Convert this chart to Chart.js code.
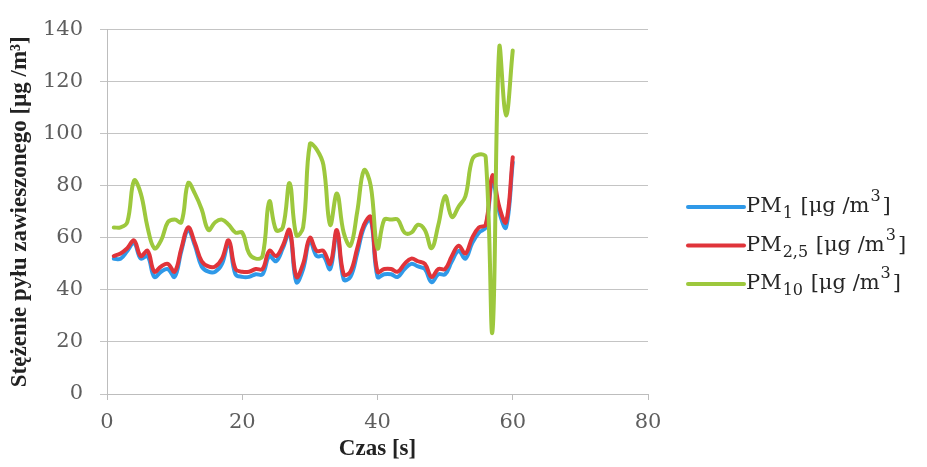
<!DOCTYPE html>
<html>
<head>
<meta charset="utf-8">
<script src="https://cdn.jsdelivr.net/npm/chart.js@4.4.0/dist/chart.umd.min.js"></script>
<style>
  html, body { margin: 0; padding: 0; background: #fff; }
</style>
</head>
<body>
<canvas id="wykres" width="927" height="467"></canvas>
<script>
// czas pomiaru [s]
const czas = [1, 2, 3, 4, 5, 6, 7, 8, 9, 10, 11, 12, 13, 14, 15, 16, 17, 18, 19, 20,
  21, 22, 23, 24, 25, 26, 27, 28, 29, 30, 31, 32, 33, 34, 35, 36, 37, 38, 39, 40,
  41, 42, 43, 44, 45, 46, 47, 48, 49, 50, 51, 52, 53, 54, 55, 56, 57, 58, 59, 60];

const pm1 = [52, 52, 55, 58, 52, 53, 45, 47, 48, 45, 55, 63, 57, 49, 47, 47, 50, 58, 46, 45,
  45, 46, 46, 53, 51, 56, 62, 43, 48, 59, 53, 53, 48, 62, 44, 45, 54, 64, 67, 45,
  46, 46, 45, 48, 50, 49, 48, 43, 46, 46, 51, 55, 52, 58, 62, 64, 82, 70, 64, 89];

const pm25 = [53, 54, 56, 59, 53, 55, 47, 49, 50, 47, 56, 64, 58, 51, 49, 49, 52, 59, 48, 47,
  47, 48, 48, 55, 53, 57, 63, 45, 50, 60, 55, 55, 50, 63, 46, 47, 56, 65, 68, 47,
  48, 48, 47, 50, 52, 51, 50, 45, 48, 48, 53, 57, 54, 60, 64, 65, 84, 72, 66, 91];

const pm10 = [64, 64, 66, 82, 77, 64, 56, 59, 66, 67, 66, 81, 77, 71, 63, 66, 67, 65, 62, 62,
  54, 52, 53, 74, 63, 64, 81, 61, 64, 96, 94, 88, 65, 77, 62, 57, 70, 86, 80, 56,
  67, 67, 67, 62, 62, 65, 63, 56, 65, 76, 68, 72, 76, 90, 92, 91, 24, 133, 107, 132];

const xTicks = [0, 20, 40, 60, 80];
const yTicks = [0, 20, 40, 60, 80, 100, 120, 140];

// opis legendy: PM + indeks dolny + jednostka z potega
const nazwy = ['PM', 'PM', 'PM'];
const indeksy = ['1', '2,5', '10'];
const kolory = ['#2f99e8', '#e0343a', '#9dc83d'];

const szeryf = '"Liberation Serif", "DejaVu Serif", serif';
const szeryfSzeroki = '"DejaVu Serif", "Liberation Serif", serif';

function punkty(wartosci) {
  return czas.map((t, i) => ({ x: t, y: wartosci[i] }));
}

const legendaWlasna = {
  id: 'legendaWlasna',
  afterDraw(chart) {
    const ctx = chart.ctx;
    const x0 = 688, y0 = 207, krok = 38.5;
    ctx.save();
    chart.data.datasets.forEach((ds, i) => {
      const y = y0 + i * krok;
      ctx.strokeStyle = ds.borderColor;
      ctx.lineWidth = 4;
      ctx.lineCap = 'round';
      ctx.beginPath();
      ctx.moveTo(x0, y);
      ctx.lineTo(x0 + 56, y);
      ctx.stroke();

      ctx.fillStyle = '#262626';
      ctx.textBaseline = 'middle';
      let x = x0 + 58;
      ctx.font = '21px ' + szeryfSzeroki;
      ctx.fillText(nazwy[i], x, y);
      x += ctx.measureText(nazwy[i]).width;
      ctx.font = '16px ' + szeryfSzeroki;
      ctx.fillText(indeksy[i], x + 1, y + 7);
      x += ctx.measureText(indeksy[i]).width + 2;
      ctx.font = '21px ' + szeryfSzeroki;
      const jedn = ' [\u03bcg /m';
      ctx.fillText(jedn, x, y);
      x += ctx.measureText(jedn).width;
      ctx.font = '16px ' + szeryfSzeroki;
      ctx.fillText('3', x + 1, y - 10);
      x += ctx.measureText('3').width + 3;
      ctx.font = '21px ' + szeryfSzeroki;
      ctx.fillText(']', x, y);
    });
    ctx.restore();
  }
};

new Chart(document.getElementById('wykres'), {
  type: 'line',
  data: {
    datasets: [
      { label: 'PM\u2081 [\u03bcg /m\u00b3]', data: punkty(pm1), borderColor: kolory[0], order: 2 },
      { label: 'PM\u2082,\u2085 [\u03bcg /m\u00b3]', data: punkty(pm25), borderColor: kolory[1], order: 1 },
      { label: 'PM\u2081\u2080 [\u03bcg /m\u00b3]', data: punkty(pm10), borderColor: kolory[2], order: 0 }
    ]
  },
  options: {
    responsive: false,
    animation: false,
    devicePixelRatio: 1,
    layout: { padding: { top: 22, right: 279, left: 0, bottom: 0 } },
    elements: {
      line: { borderWidth: 4, tension: 0.4, fill: false, borderCapStyle: 'round', borderJoinStyle: 'round' },
      point: { radius: 0 }
    },
    plugins: { legend: { display: false }, tooltip: { enabled: false } },
    scales: {
      x: {
        type: 'linear', min: 0, max: 80,
        afterBuildTicks: s => { s.ticks = xTicks.map(v => ({ value: v })); },
        afterFit: s => { s.height = 73; },
        ticks: { color: '#5e5e5e', padding: 10, font: { family: szeryfSzeroki, size: 21 } },
        grid: { drawOnChartArea: false, tickLength: 6, color: '#bdbdbd' },
        border: { color: '#bdbdbd' },
        title: { display: true, text: 'Czas [s]', color: '#222', padding: { top: 0 },
                 font: { family: szeryf, size: 23, weight: 'bold' } }
      },
      y: {
        min: 0, max: 140,
        afterBuildTicks: s => { s.ticks = yTicks.map(v => ({ value: v })); },
        afterFit: s => { s.width = 107; },
        ticks: { color: '#5e5e5e', padding: 17, font: { family: szeryfSzeroki, size: 21 } },
        grid: { color: '#c4c4c4', tickLength: 7 },
        border: { color: '#bdbdbd' },
        title: { display: true, text: 'St\u0119\u017cenie py\u0142u zawieszonego [\u03bcg /m\u00b3]', color: '#222',
                 padding: { top: 6, bottom: 0 }, font: { family: szeryf, size: 23, weight: 'bold' } }
      }
    }
  },
  plugins: [legendaWlasna]
});
</script>
</body>
</html>
